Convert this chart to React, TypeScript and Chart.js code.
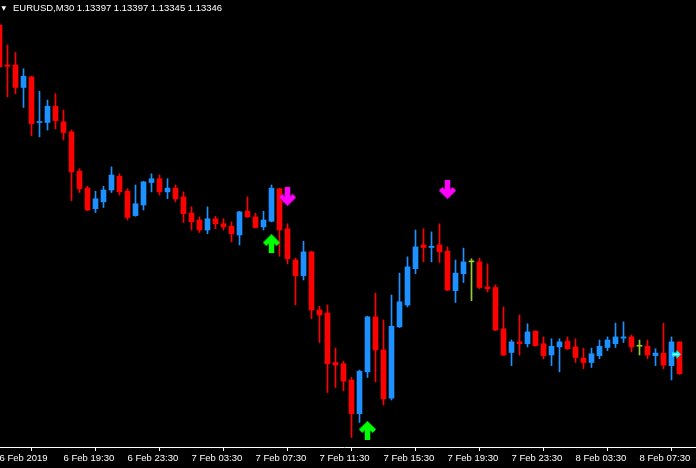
import React, { useEffect, useRef } from 'react';
import { Chart, registerables } from 'chart.js';

Chart.register(...registerables);

const SYMBOL = 'EURUSD,M30';
const HEADER_OHLC = ['1.13397', '1.13397', '1.13345', '1.13346'];

const tickBars = [0, 8, 16, 24, 32, 40, 48, 56, 64, 72, 80];
const tickLabels = [
  '6 Feb 2019', '6 Feb 19:30', '6 Feb 23:30', '7 Feb 03:30', '7 Feb 07:30', '7 Feb 11:30',
  '7 Feb 15:30', '7 Feb 19:30', '7 Feb 23:30', '8 Feb 03:30', '8 Feb 07:30',
];

const opens = [
  1.13904, 1.13840, 1.13840, 1.13804, 1.13821, 1.13748, 1.13748, 1.13774, 1.13749, 1.13733,
  1.13670, 1.13643, 1.13610, 1.13621, 1.13640, 1.13662, 1.13638, 1.13599, 1.13616, 1.13652,
  1.13658, 1.13637, 1.13643, 1.13629, 1.13603, 1.13592, 1.13576, 1.13594, 1.13586, 1.13582,
  1.13568, 1.13606, 1.13597, 1.13581, 1.13590, 1.13642, 1.13578, 1.13528, 1.13503, 1.13541,
  1.13448, 1.13443, 1.13364, 1.13362, 1.13336, 1.13282, 1.13349, 1.13437, 1.13384, 1.13307,
  1.13421, 1.13456, 1.13514, 1.13552, 1.13548, 1.13552, 1.13542, 1.13479, 1.13506, 1.13525,
  1.13525, 1.13485, 1.13484, 1.13418, 1.13380, 1.13397, 1.13394, 1.13414, 1.13394, 1.13376,
  1.13389, 1.13398, 1.13389, 1.13371, 1.13364, 1.13375, 1.13388, 1.13394, 1.13403, 1.13405,
  1.13390, 1.13390, 1.13375, 1.13379, 1.13359, 1.13397,
];
const highs = [
  1.13904, 1.13872, 1.13860, 1.13834, 1.13822, 1.13798, 1.13784, 1.13794, 1.13768, 1.13736,
  1.13674, 1.13646, 1.13638, 1.13646, 1.13677, 1.13666, 1.13642, 1.13648, 1.13654, 1.13666,
  1.13664, 1.13658, 1.13648, 1.13637, 1.13613, 1.13597, 1.13613, 1.13598, 1.13594, 1.13589,
  1.13606, 1.13629, 1.13603, 1.13606, 1.13648, 1.13643, 1.13586, 1.13531, 1.13558, 1.13542,
  1.13454, 1.13456, 1.13387, 1.13366, 1.13340, 1.13352, 1.13438, 1.13475, 1.13432, 1.13472,
  1.13507, 1.13533, 1.13576, 1.13578, 1.13573, 1.13586, 1.13549, 1.13528, 1.13547, 1.13530,
  1.13531, 1.13522, 1.13488, 1.13453, 1.13400, 1.13440, 1.13426, 1.13415, 1.13405, 1.13402,
  1.13402, 1.13405, 1.13402, 1.13387, 1.13387, 1.13400, 1.13405, 1.13427, 1.13429, 1.13408,
  1.13400, 1.13400, 1.13386, 1.13427, 1.13405, 1.13397,
];
const lows = [
  1.13836, 1.13789, 1.13794, 1.13772, 1.13727, 1.13725, 1.13736, 1.13738, 1.13720, 1.13623,
  1.13636, 1.13607, 1.13604, 1.13612, 1.13636, 1.13632, 1.13592, 1.13598, 1.13608, 1.13637,
  1.13632, 1.13626, 1.13621, 1.13588, 1.13576, 1.13572, 1.13570, 1.13578, 1.13576, 1.13557,
  1.13552, 1.13596, 1.13579, 1.13576, 1.13589, 1.13534, 1.13522, 1.13456, 1.13496, 1.13434,
  1.13396, 1.13316, 1.13324, 1.13319, 1.13244, 1.13268, 1.13340, 1.13333, 1.13296, 1.13304,
  1.13420, 1.13453, 1.13506, 1.13525, 1.13525, 1.13524, 1.13479, 1.13460, 1.13492, 1.13463,
  1.13482, 1.13477, 1.13415, 1.13375, 1.13359, 1.13376, 1.13389, 1.13390, 1.13370, 1.13359,
  1.13349, 1.13385, 1.13364, 1.13354, 1.13356, 1.13370, 1.13383, 1.13388, 1.13396, 1.13381,
  1.13376, 1.13370, 1.13359, 1.13354, 1.13336, 1.13345,
];
const closes = [
  1.13837, 1.13838, 1.13804, 1.13822, 1.13746, 1.13749, 1.13774, 1.13751, 1.13732, 1.13669,
  1.13642, 1.13608, 1.13626, 1.13640, 1.13664, 1.13637, 1.13596, 1.13618, 1.13653, 1.13658,
  1.13637, 1.13643, 1.13626, 1.13602, 1.13589, 1.13576, 1.13594, 1.13586, 1.13581, 1.13570,
  1.13605, 1.13597, 1.13580, 1.13592, 1.13643, 1.13576, 1.13530, 1.13503, 1.13541, 1.13448,
  1.13440, 1.13362, 1.13360, 1.13334, 1.13282, 1.13350, 1.13437, 1.13384, 1.13306, 1.13422,
  1.13461, 1.13517, 1.13549, 1.13548, 1.13550, 1.13541, 1.13480, 1.13507, 1.13525, 1.13525,
  1.13484, 1.13482, 1.13416, 1.13376, 1.13397, 1.13394, 1.13413, 1.13391, 1.13375, 1.13390,
  1.13397, 1.13386, 1.13372, 1.13364, 1.13378, 1.13390, 1.13400, 1.13405, 1.13405, 1.13389,
  1.13390, 1.13376, 1.13379, 1.13360, 1.13397, 1.13346,
];

const buyBars = [34, 46];
const buyPrices = [1.13554, 1.13255];
const sellBars = [36, 56];
const sellPrices = [1.13630, 1.13641];
const markerBars = [85];
const markerPrices = [1.13377];

const X_MIN = -0.9375;
const X_MAX = 87.0625;
const Y_MAX = 1.13944;
const Y_MIN = 1.132288;

const BULL = '#1e90ff';
const BEAR = '#ff0000';
const DOJI = '#9acd32';

function makeArrow(dir: 'up' | 'down', color: string, edge: string) {
  const c = document.createElement('canvas');
  c.width = 17;
  c.height = 19;
  const g = c.getContext('2d')!;
  if (dir === 'down') {
    g.translate(0, 19);
    g.scale(1, -1);
  }
  const draw = (col: string, extra: number) => {
    g.fillStyle = col;
    g.strokeStyle = col;
    g.fillRect(6 - extra / 2, 5, 5 + extra, 14);
    g.lineWidth = 4.5 + extra;
    g.lineJoin = 'miter';
    g.lineCap = 'butt';
    g.beginPath();
    g.moveTo(1.7, 10);
    g.lineTo(8.5, 3.4);
    g.lineTo(15.3, 10);
    g.stroke();
  };
  draw(edge, 1);
  draw(color, 0);
  return c;
}

function makeMarker() {
  const c = document.createElement('canvas');
  c.width = 15;
  c.height = 9;
  const g = c.getContext('2d')!;
  g.fillStyle = '#00ffff';
  g.beginPath();
  g.moveTo(0, 2.5);
  g.lineTo(4.5, 2.5);
  g.lineTo(4.5, 0);
  g.lineTo(9, 4.5);
  g.lineTo(4.5, 9);
  g.lineTo(4.5, 6.5);
  g.lineTo(0, 6.5);
  g.closePath();
  g.fill();
  g.fillStyle = '#ffffff';
  g.fillRect(1, 4, 5.5, 1);
  return c;
}

const bgPlugin = {
  id: 'bg',
  beforeDraw(chart: any) {
    const ctx = chart.ctx;
    ctx.save();
    ctx.fillStyle = '#000000';
    ctx.fillRect(0, 0, chart.width, chart.height);
    ctx.restore();
  },
};

const headerPlugin = {
  id: 'header',
  afterDraw(chart: any) {
    const ctx = chart.ctx;
    ctx.save();
    ctx.fillStyle = '#ffffff';
    ctx.textBaseline = 'alphabetic';
    ctx.textAlign = 'left';
    ctx.font = '6px "DejaVu Sans"';
    ctx.fillText('▼', 8 + 1.5, 9.5);
    ctx.font = '9.5px "Liberation Sans"';
    ctx.fillText(SYMBOL + ' ' + HEADER_OHLC.join(' '), 8 + 13, 11);
    ctx.restore();
  },
};

export default function App() {
  const ref = useRef<HTMLCanvasElement | null>(null);

  useEffect(() => {
    if (!ref.current) return;
    const colors = opens.map((o, i) => (closes[i] > o ? BULL : closes[i] < o ? BEAR : DOJI));
    const bodies = opens.map((o, i) => ({ x: i, y: [o, closes[i]] }));
    const wicks = lows.map((l, i) => ({ x: i, y: [l, highs[i]] }));
    const up = makeArrow('up', '#00ff00', '#007a00');
    const down = makeArrow('down', '#ff00ff', '#8a008a');
    const marker = makeMarker();

    const chart = new Chart(ref.current, {
      type: 'bar',
      data: {
        datasets: [
          {
            type: 'line',
            data: buyBars.map((b, i) => ({ x: b, y: buyPrices[i] })),
            showLine: false,
            pointStyle: up as any,
            pointRadius: 3,
            borderWidth: 0,
            clip: false as any,
          } as any,
          {
            type: 'line',
            data: sellBars.map((b, i) => ({ x: b, y: sellPrices[i] })),
            showLine: false,
            pointStyle: down as any,
            pointRadius: 3,
            borderWidth: 0,
            clip: false as any,
          } as any,
          {
            type: 'line',
            data: markerBars.map((b, i) => ({ x: b, y: markerPrices[i] })),
            showLine: false,
            pointStyle: marker as any,
            pointRadius: 3,
            borderWidth: 0,
            clip: false as any,
          } as any,
          {
            type: 'bar',
            data: bodies as any,
            backgroundColor: colors,
            borderWidth: 0,
            barThickness: 5,
            minBarLength: 1,
            grouped: false,
          } as any,
          {
            type: 'bar',
            data: wicks as any,
            backgroundColor: colors,
            borderWidth: 0,
            barThickness: 1,
            grouped: false,
          } as any,
        ],
      },
      options: {
        responsive: false,
        animation: false,
        events: [],
        devicePixelRatio: 1,
        layout: { padding: 0, autoPadding: false } as any,
        plugins: { legend: { display: false }, tooltip: { enabled: false }, title: { display: false } },
        scales: {
          x: {
            type: 'linear',
            min: X_MIN,
            max: X_MAX,
            offset: false,
            grid: {
              display: true,
              drawOnChartArea: false,
              drawTicks: true,
              tickLength: 4,
              color: '#ffffff',
              lineWidth: 1,
            },
            border: { display: true, color: '#ffffff', width: 1 },
            ticks: {
              color: '#ffffff',
              font: { family: 'Liberation Sans', size: 9.5 },
              align: 'start',
              maxRotation: 0,
              minRotation: 0,
              autoSkip: false,
              padding: 2,
              callback: (v: any) => {
                const k = tickBars.indexOf(Number(v));
                return k >= 0 ? tickLabels[k] : '';
              },
            },
            afterBuildTicks: (s: any) => {
              s.ticks = tickBars.map((v) => ({ value: v }));
            },
            afterFit: (s: any) => {
              s.height = 21;
              s.paddingLeft = 0;
              s.paddingRight = 0;
            },
          } as any,
          y: {
            type: 'linear',
            display: false,
            min: Y_MIN,
            max: Y_MAX,
          },
        },
      },
      plugins: [bgPlugin, headerPlugin],
    });
    return () => chart.destroy();
  }, []);

  return (
    <div
      style={{
        position: 'fixed',
        left: 0,
        top: 0,
        width: 696,
        height: 468,
        overflow: 'hidden',
        background: '#000',
      }}
    >
      <canvas
        ref={ref}
        width={704}
        height={468}
        style={{ position: 'absolute', left: -8, top: 0, display: 'block' }}
      />
    </div>
  );
}
